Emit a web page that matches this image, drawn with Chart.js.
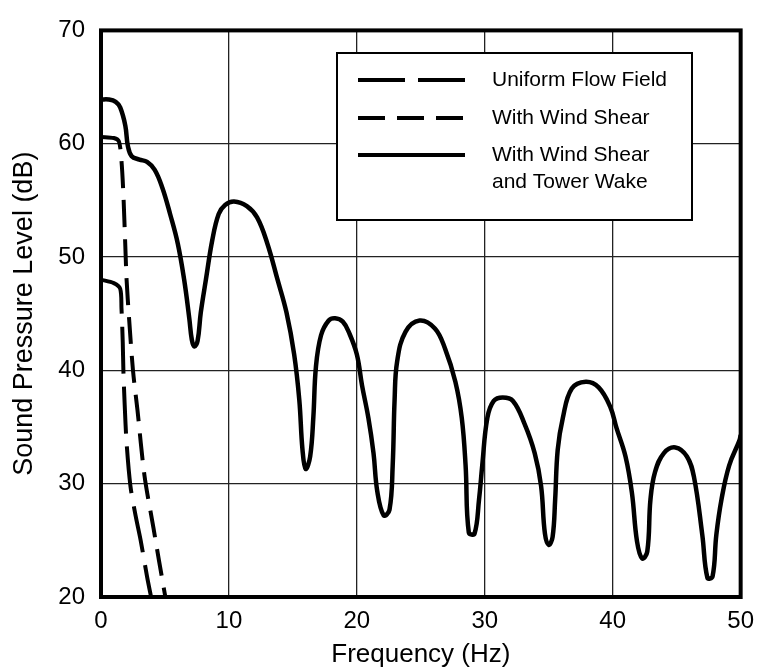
<!DOCTYPE html>
<html>
<head>
<meta charset="utf-8">
<script src="https://cdn.jsdelivr.net/npm/chart.js@4.4.1/dist/chart.umd.min.js"></script>
<style>
  body { margin: 0; background: #fff; }
  #wrap { width: 764px; height: 670px; }
</style>
</head>
<body>
<div id="wrap"><canvas id="myChart" width="764" height="670"></canvas></div>
<script>
// Series names, as shown in the legend (\n = line break)
var seriesNames = ["Uniform Flow Field", "With Wind Shear", "With Wind Shear\nand Tower Wake"];

// Uniform flow field (long dashes)
var freqUniform  = [0, 1.0, 1.5, 1.6, 1.7, 1.75, 1.85, 2.0, 2.3, 2.7, 3.1, 3.6, 3.95];
var levelUniform = [48.0, 47.7, 47.2, 45.5, 42.5, 40.0, 37.0, 33.6, 29.8, 27.2, 25.0, 21.8, 19.8];

// With wind shear (short dashes)
var freqShear  = [0, 1.0, 1.4, 1.6, 1.75, 1.9, 2.0, 2.2, 2.5, 2.85, 3.4, 4.1, 4.55, 5.0, 5.1];
var levelShear = [60.6, 60.5, 60.2, 58.5, 55.5, 51.0, 48.0, 44.5, 40.0, 36.5, 30.7, 26.1, 23.1, 20.2, 19.5];

// With wind shear and tower wake (solid)
var freqWake = [0, 0.6, 1.15, 1.5, 1.9, 2.1, 2.4, 3.0, 3.6, 4.2, 4.8, 5.4, 6.0, 6.5, 6.9, 7.1, 7.3, 7.55, 7.8, 8.2,
  8.7, 9.2, 9.7, 10.4, 11.4, 12.2, 13.0, 13.8, 14.5, 15.1, 15.5, 15.75, 16.0, 16.35, 16.6, 16.8, 17.2, 17.8, 18.3, 18.9,
  19.4, 20.0, 20.4, 20.9, 21.3, 21.6, 22.1, 22.55, 22.8, 22.95, 23.15, 23.8, 24.9, 26.1, 26.9, 27.7, 28.2, 28.5, 28.75, 29.2,
  29.55, 29.8, 30.2, 30.7, 31.4, 32.2, 33.1, 33.9, 34.4, 34.7, 35.0, 35.3, 35.5, 35.7, 36.1, 36.8, 37.9, 38.9, 39.8, 40.3,
  41.0, 41.5, 41.9, 42.3, 42.7, 42.95, 43.3, 44.0, 44.9, 45.8, 46.35, 47.0, 47.4, 47.8, 48.1, 48.5, 49.1, 49.9, 50];
var levelWake = [63.9, 63.9, 63.7, 63.2, 61.6, 59.8, 58.9, 58.6, 58.4, 57.7, 56.1, 53.8, 51.2, 48.0, 44.6, 42.7, 42.1, 42.6, 45.1, 48.0,
  51.5, 53.8, 54.6, 54.9, 54.5, 53.5, 51.2, 48.0, 45.1, 41.4, 37.4, 33.0, 31.3, 32.4, 35.9, 40.3, 43.1, 44.4, 44.6, 44.3,
  43.3, 41.4, 38.7, 35.8, 32.7, 29.3, 27.2, 27.7, 31.6, 37.4, 40.8, 43.4, 44.4, 43.7, 41.9, 39.0, 35.8, 31.6, 25.7, 25.6,
  28.6, 31.6, 35.8, 37.3, 37.6, 37.3, 35.3, 32.7, 29.8, 25.6, 24.6, 25.3, 28.6, 33.0, 35.8, 38.4, 39.0, 38.5, 36.8, 34.9,
  32.4, 29.2, 24.9, 23.4, 24.0, 28.6, 31.0, 32.7, 33.2, 32.4, 30.6, 25.5, 21.7, 21.8, 25.5, 28.6, 31.6, 33.8, 34.3];

function toPoints(xs, ys) {
  return xs.map(function (x, i) { return { x: x, y: ys[i] }; });
}

var FONT = "'Liberation Sans', Arial, Helvetica, sans-serif";

// thick black frame around the plot
var framePlugin = {
  id: 'frame',
  afterDatasetsDraw: function (chart) {
    var a = chart.chartArea, ctx = chart.ctx;
    ctx.save();
    ctx.strokeStyle = '#000';
    ctx.lineWidth = 4;
    ctx.strokeRect(a.left, a.top, a.right - a.left, a.bottom - a.top);
    ctx.restore();
  }
};

// boxed legend sitting inside the plot, upper right
var boxLegend = {
  id: 'boxLegend',
  afterDraw: function (chart) {
    var ctx = chart.ctx;
    var bx = 337, by = 53, bw = 355, bh = 167;
    ctx.save();
    ctx.fillStyle = '#fff';
    ctx.fillRect(bx, by, bw, bh);
    ctx.strokeStyle = '#000';
    ctx.lineWidth = 2;
    ctx.strokeRect(bx, by, bw, bh);
    var rows = [80, 118, 155];
    ctx.font = '21px ' + FONT;
    ctx.textBaseline = 'middle';
    ctx.fillStyle = '#000';
    chart.data.datasets.forEach(function (ds, i) {
      var y = rows[i];
      ctx.beginPath();
      ctx.setLineDash(ds.borderDash || []);
      ctx.lineWidth = 4;
      ctx.strokeStyle = '#000';
      ctx.moveTo(358, y);
      ctx.lineTo(465, y);
      ctx.stroke();
      ctx.setLineDash([]);
      ds.label.split('\n').forEach(function (line, k) {
        ctx.fillText(line, 492, y + k * 27);
      });
    });
    ctx.restore();
  }
};

var ctx = document.getElementById("myChart");
var myChart = new Chart(ctx, {
  type: 'line',
  data: {
    datasets: [
      {
        label: seriesNames[0],
        data: toPoints(freqUniform, levelUniform),
        borderColor: "#000",
        borderWidth: 4,
        borderDash: [47, 13],
        tension: 0.3,
        pointRadius: 0,
        fill: false
      },
      {
        label: seriesNames[1],
        data: toPoints(freqShear, levelShear),
        borderColor: "#000",
        borderWidth: 4,
        borderDash: [27, 12],
        tension: 0.3,
        pointRadius: 0,
        fill: false
      },
      {
        label: seriesNames[2],
        data: toPoints(freqWake, levelWake),
        borderColor: "#000",
        borderWidth: 4.5,
        borderDash: [],
        tension: 0.4,
        pointRadius: 0,
        fill: false
      }
    ]
  },
  options: {
    responsive: false,
    animation: false,
    devicePixelRatio: 1,
    layout: { padding: { left: 0, right: 21, top: 23, bottom: 0 } },
    plugins: {
      legend: { display: false },
      tooltip: { enabled: false }
    },
    scales: {
      x: {
        type: 'linear',
        min: 0,
        max: 50,
        ticks: { stepSize: 10, padding: 10, color: '#000', font: { family: FONT, size: 24 } },
        grid: { color: '#222', lineWidth: 1.3, drawTicks: false },
        border: { display: false },
        title: {
          display: true,
          text: 'Frequency (Hz)',
          color: '#000',
          font: { family: FONT, size: 26 },
          padding: { top: 2, bottom: 0 }
        },
        afterFit: function (scale) { scale.height = 73; }
      },
      y: {
        min: 20,
        max: 70,
        ticks: { stepSize: 10, padding: 16, color: '#000', font: { family: FONT, size: 24 } },
        grid: { color: '#222', lineWidth: 1.3, drawTicks: false },
        border: { display: false },
        title: {
          display: true,
          text: 'Sound Pressure Level (dB)',
          color: '#000',
          font: { family: FONT, size: 27 },
          padding: { top: 8, bottom: 0 }
        },
        afterFit: function (scale) { scale.width = 101; }
      }
    }
  },
  plugins: [framePlugin, boxLegend]
});
</script>
</body>
</html>
